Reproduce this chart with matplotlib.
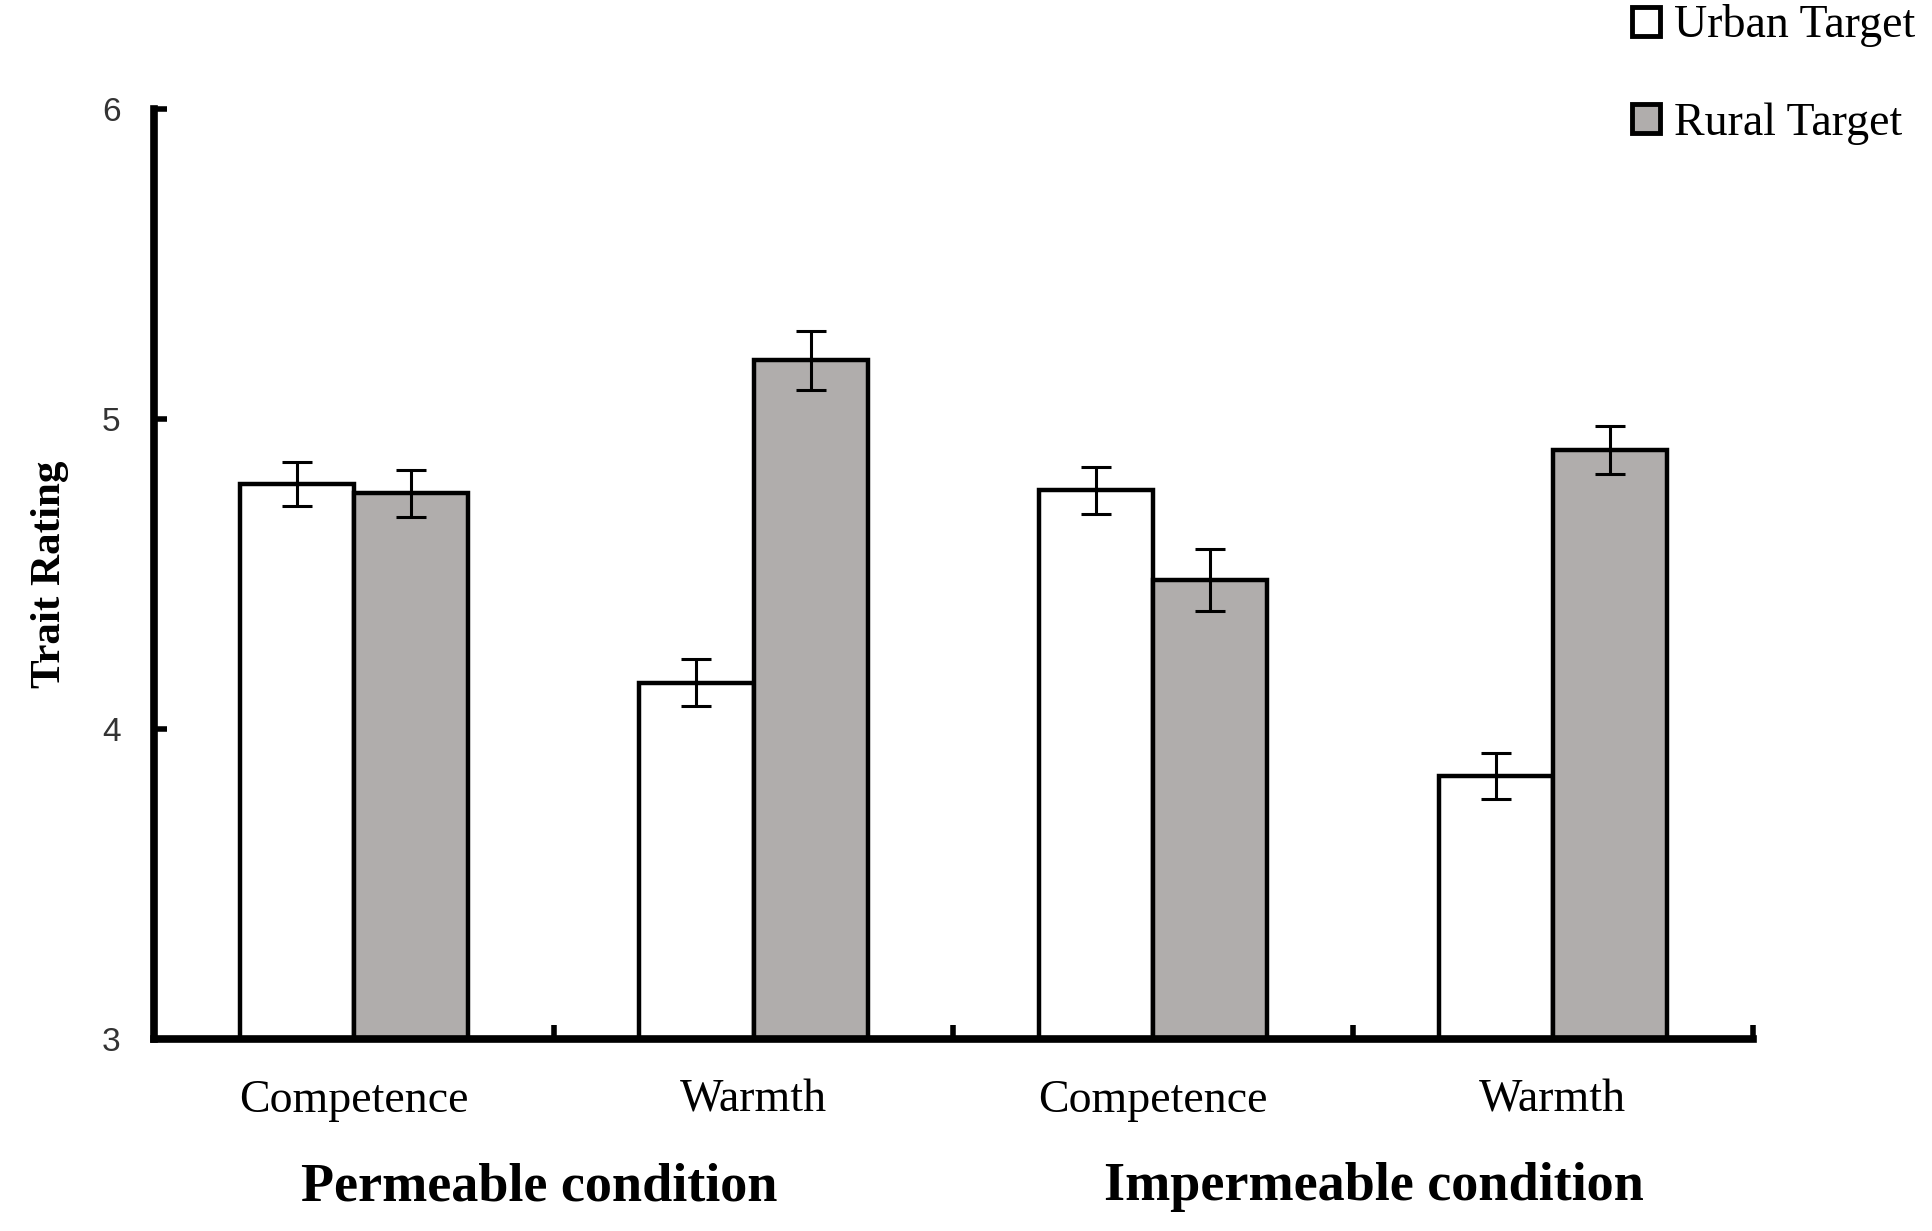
import numpy as np
import matplotlib
matplotlib.use('Agg')
import matplotlib.pyplot as plt
from matplotlib.patches import Patch

# Dados
categorias = ['Competence', 'Warmth', 'Competence', 'Warmth']
grupos = ['Permeable condition', 'Impermeable condition']
urban = [4.79, 4.15, 4.77, 3.85]
urban_err = [0.07, 0.075, 0.075, 0.075]
rural = [4.76, 5.19, 4.48, 4.90]
rural_err = [0.075, 0.095, 0.10, 0.078]
yticks = [3, 4, 5, 6]

cinza = '#b0adac'
serif = 'Liberation Serif'

fig = plt.figure(figsize=(19.33, 12.31), dpi=100)
ax = fig.add_axes([0.0797, 0.1556, 0.827, 0.756])

x = np.arange(len(categorias))
w = 0.286
err_kw = dict(elinewidth=2.2, capsize=10.5, capthick=2.2, ecolor='black')
ax.bar(x - w / 2, urban, w, color='white', edgecolor='black',
       linewidth=3.2, yerr=urban_err, error_kw=err_kw, zorder=2)
ax.bar(x + w / 2, rural, w, color=cinza, edgecolor='black',
       linewidth=3.2, yerr=rural_err, error_kw=err_kw, zorder=2)

ax.set_xlim(-0.5, len(categorias) - 0.5)
ax.set_ylim(3, 6)

for s in ['top', 'right']:
    ax.spines[s].set_visible(False)
for s in ['left', 'bottom']:
    ax.spines[s].set_linewidth(5.5)

ax.set_yticks(yticks)
ax.set_yticklabels([str(v) for v in yticks], family='Liberation Sans',
                   fontsize=24, color='#333333')
ax.tick_params(axis='y', direction='in', length=9, width=4, pad=24)

ax.set_xticks(np.arange(len(categorias)) + 0.5)
ax.set_xticklabels([])
ax.tick_params(axis='x', direction='in', length=10, width=4)

for i, c in enumerate(categorias):
    ax.text(i, -0.043, c, transform=ax.get_xaxis_transform(), ha='center',
            va='top', family=serif, fontsize=33)

ax.text(0.463, -0.132, grupos[0], transform=ax.get_xaxis_transform(),
        ha='center', va='top', family=serif, fontsize=39, fontweight='bold')
ax.text(2.552, -0.132, grupos[1], transform=ax.get_xaxis_transform(),
        ha='center', va='top', family=serif, fontsize=39, fontweight='bold')

ax.set_ylabel('Trait Rating', family=serif, fontsize=31, fontweight='bold',
              labelpad=24)

handles = [Patch(facecolor='white', edgecolor='black', linewidth=3.5),
           Patch(facecolor=cinza, edgecolor='black', linewidth=3.5)]
fig.legend(handles, ['Urban Target', 'Rural Target'], loc='upper right',
           bbox_to_anchor=(1.012, 1.03), frameon=False,
           prop={'family': serif, 'size': 33}, handlelength=0.6,
           handleheight=0.6, handletextpad=0.3, labelspacing=1.2)

fig.savefig('out.png', dpi=100)
